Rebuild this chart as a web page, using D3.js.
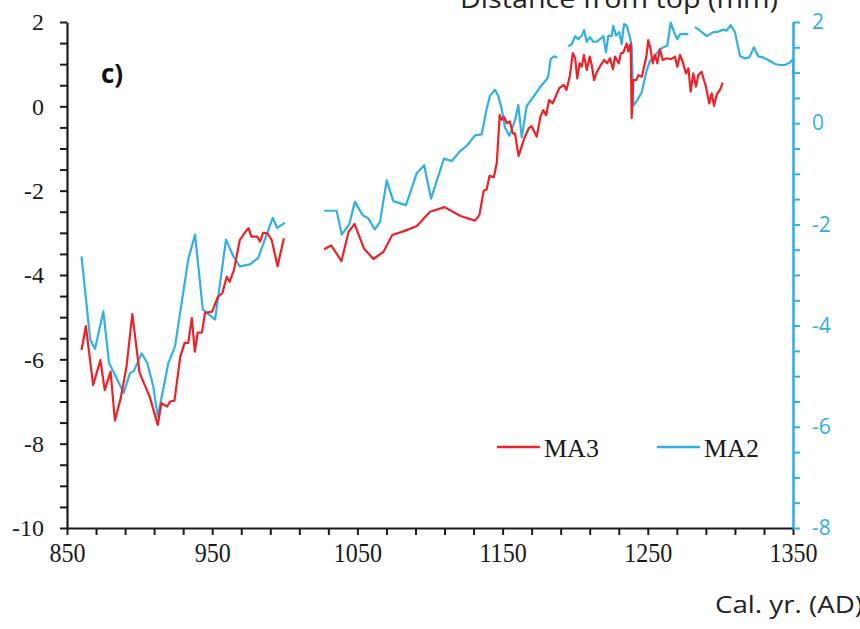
<!DOCTYPE html>
<html><head><meta charset="utf-8">
<script src="https://cdn.jsdelivr.net/npm/d3@7"></script>
<style>
html,body{margin:0;padding:0;background:#fff;}
svg{display:block;}
</style></head>
<body>
<svg id="chart" width="860" height="629"></svg>
<script>
// ---- data ----
const xTicksMajor = [850, 950, 1050, 1150, 1250, 1350];
const leftTickLabels = [2, 0, -2, -4, -6, -8, -10];
const rightTickLabels = [2, 0, -2, -4, -6, -8];
const seriesNames = ["MA3", "MA2"];
// MA3 (left axis)  [year, value]; null = gap
const ma3Points = [[860,-5.78],[863,-5.21],[868,-6.61],[873,-6.02],[876,-6.73],[880,-6.29],[883,-7.45],[887,-6.92],[891,-6.17],[895,-4.93],[900,-6.32],[907,-6.89],[912.5,-7.56],[915,-7.04],[919,-7.12],[921,-7.00],[924,-6.98],[928,-5.94],[931,-5.61],[933.5,-5.61],[936,-5.02],[938,-5.82],[940,-5.37],[943,-5.36],[945,-4.90],[950,-4.87],[954,-4.51],[957,-4.43],[960,-4.04],[962,-4.16],[965,-3.88],[969,-3.17],[973,-2.97],[975,-2.89],[977,-3.09],[981,-3.09],[983,-3.21],[985,-3.00],[988,-3.01],[991,-3.17],[995,-3.79],[999.4,-3.13],
[1013,null],
[1027,-3.39],[1032,-3.30],[1039,-3.67],[1044,-2.97],[1048,-2.79],[1054.5,-3.37],[1061,-3.62],[1068,-3.45],[1074,-3.05],[1082,-2.96],[1091,-2.84],[1100,-2.50],[1110,-2.39],[1121,-2.60],[1131,-2.71],[1134,-2.58],[1137,-2.00],[1139,-1.97],[1141,-1.65],[1144,-1.68],[1146,-1.34],[1148,-0.21],[1149.4,-0.32],[1151,-0.25],[1153,-0.40],[1155,-0.36],[1157,-0.64],[1158.5,-0.64],[1161,-1.18],[1163,-0.96],[1165.4,-0.72],[1168,-0.52],[1170,-0.47],[1173.5,-0.72],[1176,-0.25],[1178,-0.09],[1180,-0.21],[1182,0.15],[1184.5,0.07],[1187,0.27],[1189,0.43],[1192,0.51],[1194,0.39],[1196.4,0.74],[1198.3,1.26],[1200,1.14],[1201.4,0.66],[1203,1.02],[1204.5,0.94],[1206,1.22],[1208,0.86],[1210,1.18],[1211.4,0.98],[1213,0.62],[1215,0.82],[1217.6,0.98],[1220,1.10],[1222,1.02],[1224,1.14],[1226,0.88],[1227.4,1.18],[1230,1.02],[1231.5,1.26],[1233,1.27],[1235.5,1.49],[1236.6,1.30],[1238.2,1.49],[1238.9,-0.28],[1240,0.62],[1242,0.62],[1243.5,0.74],[1246,0.70],[1247.4,0.94],[1249,1.18],[1250.3,1.57],[1252,1.34],[1253.4,1.02],[1255,1.22],[1256.5,1.02],[1258.4,1.35],[1260.3,1.10],[1263,1.14],[1266,1.12],[1268.7,1.18],[1270.3,0.94],[1272.2,1.22],[1274,1.06],[1276.3,0.78],[1278,0.90],[1279.5,0.35],[1281.3,0.78],[1283.2,0.47],[1284.8,0.74],[1287,0.82],[1290,0.47],[1292.3,0.07],[1294,0.31],[1295.6,0.01],[1297.4,0.27],[1299.7,0.39],[1301.6,0.56]];
// MA2 (right axis)
const ma2Points = [[860,-2.63],[866,-4.28],[869.3,-4.46],[875,-3.72],[879,-4.74],[883,-4.97],[889,-5.33],[893.4,-4.94],[896,-4.90],[901.4,-4.55],[905.3,-4.74],[909.4,-5.20],[912.5,-5.80],[919.8,-4.74],[924.4,-4.41],[933.5,-2.69],[938.2,-2.20],[943.5,-3.68],[952,-3.88],[959.5,-2.30],[964.5,-2.63],[969,-2.83],[976,-2.79],[981.7,-2.66],[987.5,-2.20],[991.7,-1.87],[994.8,-2.07],[1000,-1.97],
[1013,null],
[1027,-1.73],[1035.7,-1.73],[1039.2,-2.20],[1044.4,-2.00],[1048.3,-1.55],[1053.6,-1.82],[1057.5,-1.88],[1062,-2.10],[1065.6,-1.95],[1070.2,-1.13],[1074.7,-1.54],[1083.5,-1.62],[1090.8,-0.99],[1096,-0.83],[1100.7,-1.49],[1109.6,-0.70],[1115,-0.75],[1120.7,-0.55],[1125.3,-0.45],[1131,-0.24],[1135.6,-0.22],[1139,0.28],[1141.3,0.54],[1144.8,0.66],[1147,0.54],[1149.4,0.28],[1151.7,-0.09],[1154.6,-0.25],[1158.5,0.05],[1160.8,0.36],[1163.2,-0.28],[1166.6,0.34],[1171,0.51],[1175.7,0.71],[1180.4,0.87],[1181.5,0.94],[1183.1,1.27],[1185.4,1.32],[1187.7,1.30],
[1191,null],
[1195.2,1.52],[1197.6,1.56],[1199.9,1.72],[1202.1,1.66],[1204.5,1.73],[1206.1,1.84],[1207.9,1.61],[1210.2,1.70],[1212.5,1.61],[1214.8,1.61],[1217.1,1.66],[1219.4,1.72],[1221.2,1.40],[1222.8,1.73],[1225.1,1.72],[1226.2,1.93],[1228.1,1.73],[1230.4,1.80],[1232,1.56],[1233.6,1.96],[1235.5,1.93],[1237.7,1.70],[1238.9,1.53],[1240,0.34],[1242.4,0.44],[1245.8,0.61],[1249.2,1.04],[1251.5,1.23],[1255,1.33],[1257.9,1.45],[1260.7,1.50],[1263.4,1.53],[1265.8,1.99],[1268,1.81],[1270.3,1.66],[1272.2,1.76],[1277.9,1.76],
[1280,null],
[1282.5,1.90],[1286,1.83],[1290.6,1.72],[1295.1,1.80],[1298.6,1.81],[1302,1.85],[1304.3,1.83],[1307.1,1.94],[1310,1.80],[1313.5,1.33],[1316.9,1.28],[1319.9,1.30],[1323.1,1.50],[1326.1,1.32],[1329.5,1.30],[1333,1.25],[1337.6,1.17],[1341,1.15],[1344.5,1.15],[1347.9,1.20],[1350,1.27],[1350,0.92]];

// ---- layout ----
const RED = "#ec2227", BLUE = "#31b0e4", INK = "#1a1a1a";
const svg = d3.select("#chart");
svg.append("rect").attr("width",860).attr("height",629).attr("fill","#fff");
const x = d3.scaleLinear().domain([850,1350]).range([67,793]);
const yL = d3.scaleLinear().domain([-10,2]).range([528,22]);
const yR = d3.scaleLinear().domain([-8,2]).range([528,22]);

// x axis
const gx = svg.append("g").attr("transform","translate(0,528)")
  .call(d3.axisBottom(x).tickValues(d3.range(850,1351,20)).tickSize(7).tickSizeOuter(0)
    .tickFormat(d => xTicksMajor.includes(d) ? String(d) : ""));
gx.select(".domain").attr("stroke",INK).attr("stroke-width",2.2);
gx.selectAll(".tick line").attr("stroke",INK).attr("stroke-width",2);
gx.selectAll(".tick text").attr("fill",INK).attr("font-family","'Liberation Serif', serif")
  .attr("font-size",28).attr("y",14).attr("dy","0.71em").attr("transform","scale(0.86,1)");

// left axis
const gl = svg.append("g").attr("transform","translate(67,0)")
  .call(d3.axisLeft(yL).tickValues(d3.range(-10,2.01,0.5)).tickSize(7).tickSizeOuter(0)
    .tickFormat(d => leftTickLabels.includes(d) ? String(d) : ""));
gl.select(".domain").attr("stroke",INK).attr("stroke-width",2.2);
gl.selectAll(".tick line").attr("stroke",INK).attr("stroke-width",2);
gl.selectAll(".tick text").attr("fill",INK).attr("font-family","'Liberation Serif', serif")
  .attr("font-size",24).attr("x",-23);

// right axis
const gr = svg.append("g").attr("transform","translate(793,0)")
  .call(d3.axisRight(yR).tickValues(d3.range(-8,2.01,0.5)).tickSize(7).tickSizeOuter(0)
    .tickFormat(d => rightTickLabels.includes(d) ? String(d) : ""));
gr.select(".domain").attr("stroke",BLUE).attr("stroke-width",2.6);
gr.selectAll(".tick line").attr("stroke",BLUE).attr("stroke-width",2);
gr.selectAll(".tick text").attr("fill",BLUE).attr("font-family","'Open Sans', sans-serif")
  .attr("font-size",21).attr("x",19);

// lines
const lineL = d3.line().defined(d => d[1] !== null).x(d => x(d[0])).y(d => yL(d[1]));
const lineR = d3.line().defined(d => d[1] !== null).x(d => x(d[0])).y(d => yR(d[1]));
svg.append("path").datum(ma2Points).attr("d",lineR).attr("fill","none")
  .attr("stroke",BLUE).attr("stroke-width",2.2).attr("stroke-linejoin","round");
svg.append("path").datum(ma3Points).attr("d",lineL).attr("fill","none")
  .attr("stroke",RED).attr("stroke-width",2.2).attr("stroke-linejoin","round");

// legend
const legend = [{name:seriesNames[0], color:RED, x0:497},{name:seriesNames[1], color:BLUE, x0:657}];
legend.forEach(l => {
  svg.append("line").attr("x1",l.x0).attr("x2",l.x0+43).attr("y1",447).attr("y2",447)
    .attr("stroke",l.color).attr("stroke-width",2.5);
  svg.append("text").attr("x",l.x0+47).attr("y",457).text(l.name)
    .attr("font-family","'Liberation Serif', serif").attr("font-size",26).attr("fill",INK);
});

// texts
svg.append("text").attr("x",101).attr("y",83).text("c)")
  .attr("font-family","'Open Sans', sans-serif").attr("font-weight","bold").attr("font-size",26).attr("fill","#111");
svg.append("text").attr("x",460).attr("y",8).text("Distance from top (mm)")
  .attr("font-family","'Open Sans', sans-serif").attr("font-size",25).attr("fill","#222")
  .attr("textLength",318).attr("lengthAdjust","spacingAndGlyphs");
svg.append("text").attr("x",715).attr("y",613).text("Cal. yr. (AD)")
  .attr("font-family","'Open Sans', sans-serif").attr("font-size",24).attr("fill","#222")
  .attr("textLength",148).attr("lengthAdjust","spacingAndGlyphs");
</script>
</body></html>
